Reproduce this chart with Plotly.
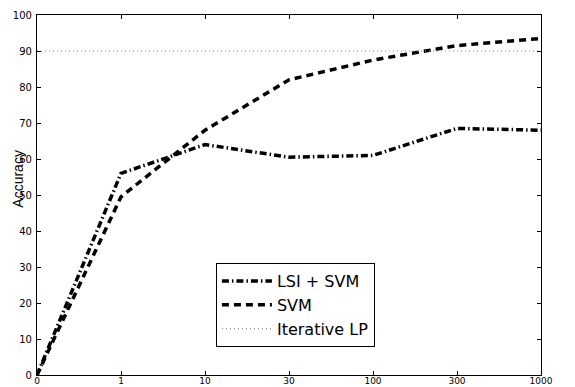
import plotly.graph_objects as go

x_labels = ["0", "1", "10", "30", "100", "300", "1000"]
lsi_svm = [0, 56, 64, 60.5, 61, 68.5, 68]
svm = [0, 49.5, 68, 82, 87.5, 91.5, 93.5]
iterative_lp = [90, 90, 90, 90, 90, 90, 90]
y_ticks = [0, 10, 20, 30, 40, 50, 60, 70, 80, 90, 100]

fig = go.Figure()
fig.add_trace(go.Scatter(x=x_labels, y=lsi_svm, mode="lines", name="LSI + SVM",
                         line=dict(color="black", width=3.5, dash="7px,3px,1.5px,3px")))
fig.add_trace(go.Scatter(x=x_labels, y=svm, mode="lines", name="SVM",
                         line=dict(color="black", width=3.5, dash="7px,5px")))
fig.add_trace(go.Scatter(x=x_labels, y=iterative_lp, mode="lines", name="Iterative LP",
                         line=dict(color="#888888", width=1.2, dash="1px,3px")))

axis_common = dict(showgrid=False, zeroline=False, showline=True, linecolor="black",
                   linewidth=1.2, mirror="ticks", ticks="inside", ticklen=4,
                   tickcolor="black", automargin=False)

# The page body has an 8px margin, so the figure is sized/offset to fit the 575x387 window.
fig.update_layout(
    width=567, height=379,
    margin=dict(l=29, r=34, t=7, b=12),
    paper_bgcolor="white", plot_bgcolor="white",
    xaxis=dict(type="category", categoryorder="array", categoryarray=x_labels,
               range=[0, 6], tickvals=x_labels, ticklabelstandoff=-3,
               tickfont=dict(family="DejaVu Sans", size=9, color="black"), **axis_common),
    yaxis=dict(range=[0, 100], tickvals=y_ticks, ticklabelstandoff=2,
               tickfont=dict(family="DejaVu Sans", size=10, color="black"), **axis_common),
    showlegend=True,
    legend=dict(x=0.355, y=0.311, xanchor="left", yanchor="top",
                bgcolor="white", bordercolor="black", borderwidth=1,
                font=dict(family="DejaVu Sans", size=16, color="black"),
                tracegroupgap=0, itemwidth=50),
    annotations=[dict(text="Accuracy", xref="paper", yref="paper", x=-0.0367, y=0.544,
                      xanchor="center", yanchor="middle", textangle=-90, showarrow=False,
                      font=dict(family="Liberation Sans, Arial", size=14, color="black"))],
)

fig.write_html("out.html")
